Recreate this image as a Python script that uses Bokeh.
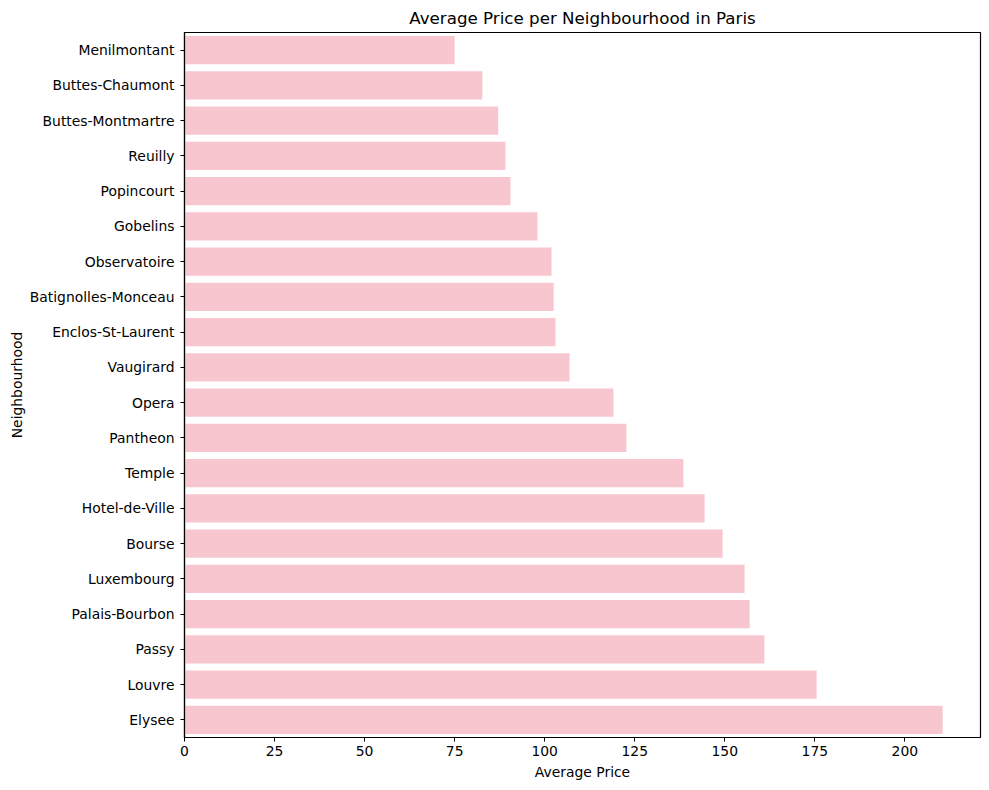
from bokeh.plotting import figure
from bokeh.models import FactorRange, Range1d, ColumnDataSource, FixedTicker
from bokeh.embed import file_html
from bokeh.resources import INLINE

neighbourhoods = ["Menilmontant", "Buttes-Chaumont", "Buttes-Montmartre", "Reuilly",
                  "Popincourt", "Gobelins", "Observatoire", "Batignolles-Monceau",
                  "Enclos-St-Laurent", "Vaugirard", "Opera", "Pantheon", "Temple",
                  "Hotel-de-Ville", "Bourse", "Luxembourg", "Palais-Bourbon", "Passy",
                  "Louvre", "Elysee"]
avg_price = [75.0, 82.7, 87.1, 89.1, 90.5, 98.0, 101.9, 102.5, 103.0, 106.9,
             119.1, 122.7, 138.5, 144.4, 149.4, 155.5, 156.9, 161.0, 175.5, 210.5]
x_ticks = [0, 25, 50, 75, 100, 125, 150, 175, 200]

FONT = "DejaVu Sans"
source = ColumnDataSource(data=dict(n=neighbourhoods, v=avg_price))

p = figure(width=983, height=783, output_backend="svg", toolbar_location=None,
           y_range=FactorRange(factors=list(reversed(neighbourhoods)), range_padding=0),
           x_range=Range1d(0, 221.0),
           title="Average Price per Neighbourhood in Paris",
           min_border_left=184, min_border_right=3, min_border_top=32, min_border_bottom=46)

p.hbar(y="n", right="v", left=0, height=0.8, source=source,
       fill_color="#f7c6ce", line_color=None)

p.title.align = "center"
p.title.text_font = FONT
p.title.text_font_size = "16.7px"
p.title.text_font_style = "normal"
p.title.text_color = "#000000"

p.xgrid.visible = False
p.ygrid.visible = False
p.outline_line_color = "black"
p.outline_line_width = 1.2

for ax in (p.xaxis[0], p.yaxis[0]):
    ax.axis_line_color = "black"
    ax.axis_line_width = 1.2
    ax.major_tick_line_color = "black"
    ax.major_tick_out = 4
    ax.major_tick_in = 0
    ax.minor_tick_line_color = None
    ax.major_label_text_font = FONT
    ax.major_label_text_font_size = "13.9px"
    ax.major_label_text_color = "#000000"
    ax.axis_label_text_font = FONT
    ax.axis_label_text_font_size = "13.9px"
    ax.axis_label_text_font_style = "normal"
    ax.axis_label_text_color = "#000000"

p.xaxis.ticker = FixedTicker(ticks=x_ticks)
p.xaxis.axis_label = "Average Price"
p.yaxis.axis_label = "Neighbourhood"
p.xaxis.major_label_standoff = 4
p.yaxis.major_label_standoff = 6
p.yaxis.axis_label_standoff = 2

open("out.html", "w").write(file_html(p, INLINE))
